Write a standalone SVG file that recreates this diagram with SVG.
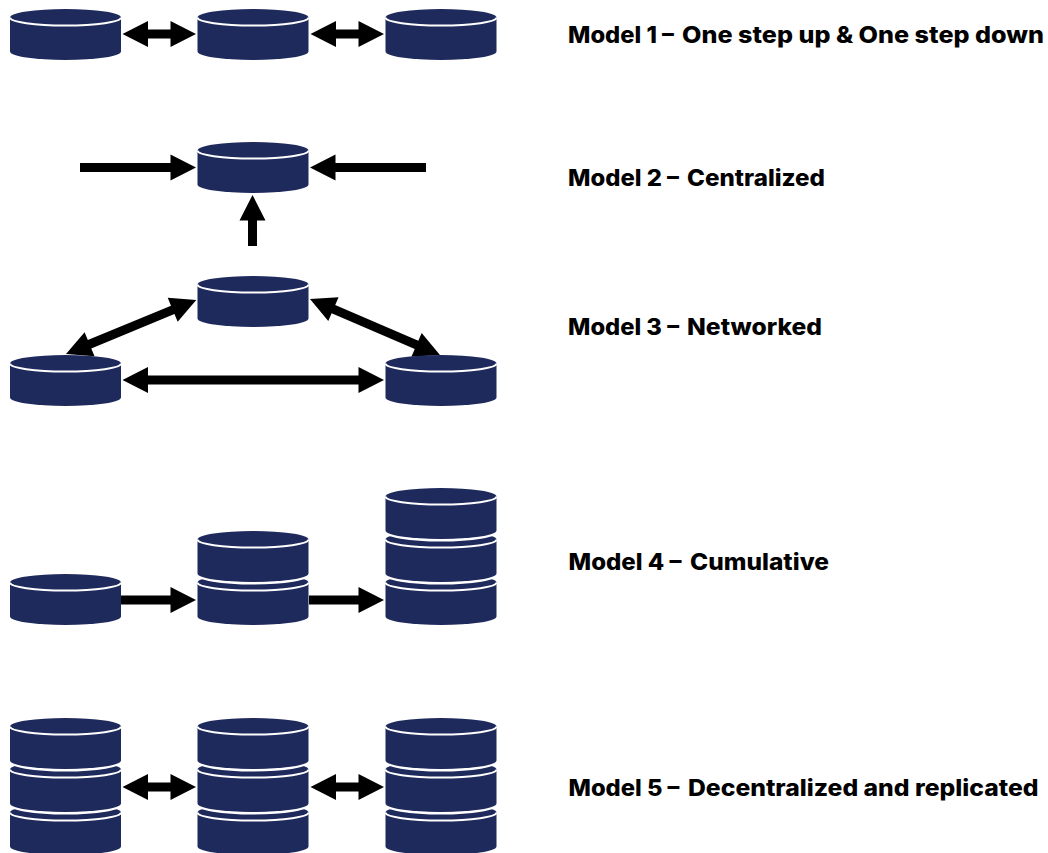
<svg xmlns="http://www.w3.org/2000/svg" xmlns:xlink="http://www.w3.org/1999/xlink" width="1048" height="853" viewBox="0 0 1048 853">
<style>
.t{font-family:"Inter","Liberation Sans",sans-serif;font-weight:800;font-size:22.5px;fill:#000}
.body{fill:#1f2a5c}
.ring{fill:none;stroke:#fff;stroke-width:2}
.a{fill:#000}
</style>
<defs>
<g id="cyl"><path class="body" d="M0,8.500A55.500,8.500 0 0 1 111,8.500V42.500A55.500,8.500 0 0 1 0,42.500Z"/><path class="ring" d="M0,8.500A55.500,8 0 0 0 111,8.500"/></g>
<g id="cylb"><path class="ring" d="M-1,42.500A56.500,9.500 0 0 0 112,42.500" style="stroke-width:3"/><use xlink:href="#cyl"/></g>
<path id="dbl" d="M0,0L25.500,-13V-4.500H48V-13L73.500,0L48,13V4.500H25.500V13Z"/>
</defs>
<g id="connectors" class="a">
<use xlink:href="#dbl" x="122.500" y="34"/>
<use xlink:href="#dbl" x="310.500" y="34"/>
<path d="M80,163H170.500V154.500L196,167.500L170.500,180.500V172H80Z"/>
<path d="M426,163H335.500V154.500L310,167.500L335.500,180.500V172H426Z"/>
<path d="M248,246V220.500H239.500L252.500,195L265.500,220.500H257V246Z"/>
<path d="M122.500,380L148,367V375.500H358.500V367L384,380L358.500,393V384.500H148V393Z"/>
<g transform="translate(66,354) rotate(-22.500)"><path d="M0,0L25.500,-13V-4.500H115.500V-13L141,0L115.500,13V4.500H25.500V13Z"/></g>
<g transform="translate(310,299) rotate(23.300)"><path d="M0,0L25.500,-13V-4.500H116V-13L141.500,0L116,13V4.500H25.500V13Z"/></g>
<path d="M121,595.500H170.500V587L196,600L170.500,613V604.500H121Z"/>
<path d="M309,595.500H358.500V587L384,600L358.500,613V604.500H309Z"/>
<use xlink:href="#dbl" x="122.500" y="787"/>
<use xlink:href="#dbl" x="310.500" y="787"/>
</g>
<g id="m1a"><use xlink:href="#cyl" x="10" y="9"/></g>
<g id="m1b"><use xlink:href="#cyl" x="197.500" y="9"/></g>
<g id="m1c"><use xlink:href="#cyl" x="385.500" y="9"/></g>
<g id="m2"><use xlink:href="#cyl" x="197.500" y="142"/></g>
<g id="m3a"><use xlink:href="#cyl" x="197.500" y="276"/></g>
<g id="m3b"><use xlink:href="#cyl" x="10" y="355"/></g>
<g id="m3c"><use xlink:href="#cyl" x="385.500" y="355"/></g>
<g id="m4a"><use xlink:href="#cyl" x="10" y="574"/></g>
<g id="m4b"><use xlink:href="#cyl" x="197.500" y="574"/><use xlink:href="#cylb" x="197.500" y="531"/></g>
<g id="m4c"><use xlink:href="#cyl" x="385.500" y="574"/><use xlink:href="#cylb" x="385.500" y="531"/><use xlink:href="#cylb" x="385.500" y="488"/></g>
<g id="m5a"><use xlink:href="#cyl" x="10" y="804"/><use xlink:href="#cylb" x="10" y="761"/><use xlink:href="#cylb" x="10" y="718"/></g>
<g id="m5b"><use xlink:href="#cyl" x="197.500" y="804"/><use xlink:href="#cylb" x="197.500" y="761"/><use xlink:href="#cylb" x="197.500" y="718"/></g>
<g id="m5c"><use xlink:href="#cyl" x="385.500" y="804"/><use xlink:href="#cylb" x="385.500" y="761"/><use xlink:href="#cylb" x="385.500" y="718"/></g>
<g id="labels">
<text class="t" y="43"><tspan x="568" textLength="106" lengthAdjust="spacingAndGlyphs">Model 1 –</tspan> <tspan x="682" textLength="362" lengthAdjust="spacingAndGlyphs">One step up &amp; One step down</tspan></text>
<text class="t" y="186"><tspan x="568" textLength="111" lengthAdjust="spacingAndGlyphs">Model 2 –</tspan> <tspan x="687" textLength="138" lengthAdjust="spacingAndGlyphs">Centralized</tspan></text>
<text class="t" y="335"><tspan x="568" textLength="111" lengthAdjust="spacingAndGlyphs">Model 3 –</tspan> <tspan x="687" textLength="135" lengthAdjust="spacingAndGlyphs">Networked</tspan></text>
<text class="t" y="570"><tspan x="568.500" textLength="113" lengthAdjust="spacingAndGlyphs">Model 4 –</tspan> <tspan x="690" textLength="139" lengthAdjust="spacingAndGlyphs">Cumulative</tspan></text>
<text class="t" y="796"><tspan x="568.500" textLength="111" lengthAdjust="spacingAndGlyphs">Model 5 –</tspan> <tspan x="688" textLength="350.500" lengthAdjust="spacingAndGlyphs">Decentralized and replicated</tspan></text>
</g>
</svg>
